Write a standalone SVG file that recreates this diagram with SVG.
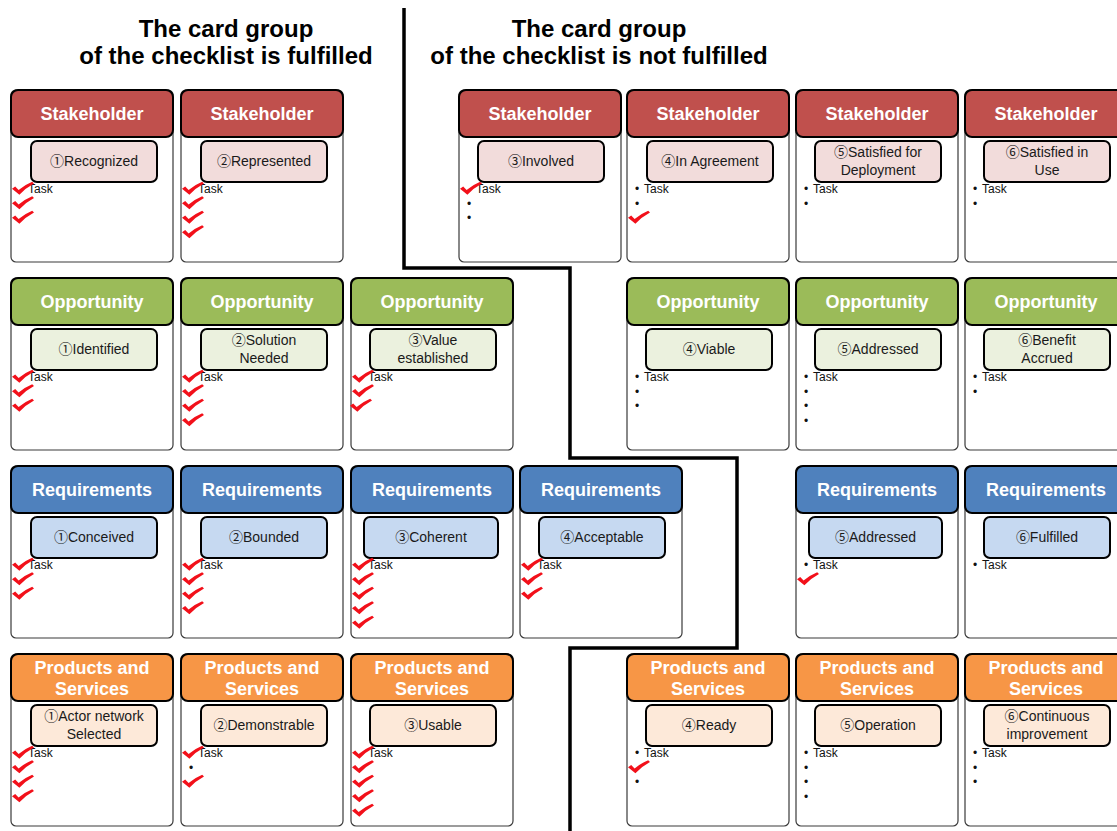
<svg xmlns="http://www.w3.org/2000/svg" xmlns:xlink="http://www.w3.org/1999/xlink" width="1117" height="831" viewBox="0 0 1117 831">
  <style>
    text { font-family: "Liberation Sans", "Noto Sans CJK JP", "DejaVu Sans", sans-serif; }
    .title { font-size: 24px; font-weight: bold; fill: #000; text-anchor: middle; }
    .body { fill: #fff; stroke: #3a3a3a; stroke-width: 1.2; }
    .hd { stroke: #000; stroke-width: 2; }
    .sb { stroke: #000; stroke-width: 2; }
    .hdt { font-size: 18px; font-weight: bold; fill: #fff; text-anchor: middle; }
    .sbt { font-size: 14px; fill: #1a1a1a; text-anchor: middle; }
    .tk { font-size: 12px; fill: #111; }
    .stk .hd { fill: #C0504D; } .stk .sb { fill: #F2DCDB; }
    .opp .hd { fill: #9BBB59; } .opp .sb { fill: #EBF1DE; }
    .req .hd { fill: #4F81BD; } .req .sb { fill: #C6D9F1; }
    .prd .hd { fill: #F79646; } .prd .sb { fill: #FDE9D9; }
    .div { fill: none; stroke: #000; stroke-width: 3.5; stroke-linejoin: miter; }
  </style>
  <defs>
    <!-- brush-style red check mark, about 22x13 -->
    <path id="chk" fill="#F2101A" d="M0,6.8 L3.2,4.4 L6.6,8 Q13,2.6 20.2,-0.3 L22,1.6 Q13.8,6 7.4,12.8 Z"/>
  </defs>

  <rect width="1117" height="831" fill="#fff"/>

  <!-- column titles -->
  <g id="titles">
    <text class="title" x="226" y="37">The card group</text>
    <text class="title" x="226" y="64">of the checklist is fulfilled</text>
    <text class="title" x="599" y="37">The card group</text>
    <text class="title" x="599" y="64">of the checklist is not fulfilled</text>
  </g>

  <!-- stepped boundary between fulfilled and unfulfilled cards -->
  <g id="divider">
    <path class="div" d="M404,8 V268 H570 V458 H737 V648 H570 V831"/>
  </g>

  <!-- ===== Row 1 : Stakeholder (top 90) ===== -->
  <g id="stakeholder-1" class="stk">
    <rect class="body" x="11" y="90" width="162" height="172" rx="5"/>
    <rect class="hd" x="11" y="90" width="162" height="47" rx="7"/>
    <text class="hdt" x="92" y="120">Stakeholder</text>
    <rect class="sb" x="31" y="141" width="126" height="41" rx="6"/>
    <text class="sbt" x="94" y="166">①Recognized</text>
    <text class="tk" x="28" y="193">Task</text>
    <use href="#chk" x="12" y="182"/><use href="#chk" x="12" y="196.5"/><use href="#chk" x="12" y="211"/>
  </g>
  <g id="stakeholder-2" class="stk">
    <rect class="body" x="181" y="90" width="162" height="172" rx="5"/>
    <rect class="hd" x="181" y="90" width="162" height="47" rx="7"/>
    <text class="hdt" x="262" y="120">Stakeholder</text>
    <rect class="sb" x="201" y="141" width="126" height="41" rx="6"/>
    <text class="sbt" x="264" y="166">②Represented</text>
    <text class="tk" x="198" y="193">Task</text>
    <use href="#chk" x="182" y="182"/><use href="#chk" x="182" y="196.5"/><use href="#chk" x="182" y="211"/><use href="#chk" x="182" y="225.5"/>
  </g>
  <g id="stakeholder-3" class="stk">
    <rect class="body" x="459" y="90" width="162" height="172" rx="5"/>
    <rect class="hd" x="459" y="90" width="162" height="47" rx="7"/>
    <text class="hdt" x="540" y="120">Stakeholder</text>
    <rect class="sb" x="478" y="141" width="126" height="41" rx="6"/>
    <text class="sbt" x="541" y="166">③Involved</text>
    <text class="tk" x="476" y="193">Task</text>
    <text class="tk" x="467" y="207.5">•</text>
    <text class="tk" x="467" y="222">•</text>
    <use href="#chk" x="460" y="182"/>
  </g>
  <g id="stakeholder-4" class="stk">
    <rect class="body" x="627" y="90" width="162" height="172" rx="5"/>
    <rect class="hd" x="627" y="90" width="162" height="47" rx="7"/>
    <text class="hdt" x="708" y="120">Stakeholder</text>
    <rect class="sb" x="647" y="141" width="126" height="41" rx="6"/>
    <text class="sbt" x="710" y="166">④In Agreement</text>
    <text class="tk" x="635" y="193">•</text><text class="tk" x="644" y="193">Task</text>
    <text class="tk" x="635" y="207.5">•</text>
    <use href="#chk" x="628" y="211"/>
  </g>
  <g id="stakeholder-5" class="stk">
    <rect class="body" x="796" y="90" width="162" height="172" rx="5"/>
    <rect class="hd" x="796" y="90" width="162" height="47" rx="7"/>
    <text class="hdt" x="877" y="120">Stakeholder</text>
    <rect class="sb" x="815" y="141" width="126" height="41" rx="6"/>
    <text class="sbt" x="878" y="157"><tspan x="878">⑤Satisfied for</tspan><tspan x="878" y="175">Deployment</tspan></text>
    <text class="tk" x="804" y="193">•</text><text class="tk" x="813" y="193">Task</text>
    <text class="tk" x="804" y="207.5">•</text>
  </g>
  <g id="stakeholder-6" class="stk">
    <rect class="body" x="965" y="90" width="162" height="172" rx="5"/>
    <rect class="hd" x="965" y="90" width="162" height="47" rx="7"/>
    <text class="hdt" x="1046" y="120">Stakeholder</text>
    <rect class="sb" x="984" y="141" width="126" height="41" rx="6"/>
    <text class="sbt" x="1047" y="157"><tspan x="1047">⑥Satisfied in</tspan><tspan x="1047" y="175">Use</tspan></text>
    <text class="tk" x="973" y="193">•</text><text class="tk" x="982" y="193">Task</text>
    <text class="tk" x="973" y="207.5">•</text>
  </g>

  <!-- ===== Row 2 : Opportunity (top 278) ===== -->
  <g id="opportunity-1" class="opp">
    <rect class="body" x="11" y="278" width="162" height="172" rx="5"/>
    <rect class="hd" x="11" y="278" width="162" height="47" rx="7"/>
    <text class="hdt" x="92" y="308">Opportunity</text>
    <rect class="sb" x="31" y="329" width="126" height="41" rx="6"/>
    <text class="sbt" x="94" y="354">①Identified</text>
    <text class="tk" x="28" y="381">Task</text>
    <use href="#chk" x="12" y="370"/><use href="#chk" x="12" y="384.5"/><use href="#chk" x="12" y="399"/>
  </g>
  <g id="opportunity-2" class="opp">
    <rect class="body" x="181" y="278" width="162" height="172" rx="5"/>
    <rect class="hd" x="181" y="278" width="162" height="47" rx="7"/>
    <text class="hdt" x="262" y="308">Opportunity</text>
    <rect class="sb" x="201" y="329" width="126" height="41" rx="6"/>
    <text class="sbt" x="264" y="345"><tspan x="264">②Solution</tspan><tspan x="264" y="363">Needed</tspan></text>
    <text class="tk" x="198" y="381">Task</text>
    <use href="#chk" x="182" y="370"/><use href="#chk" x="182" y="384.5"/><use href="#chk" x="182" y="399"/><use href="#chk" x="182" y="413.5"/>
  </g>
  <g id="opportunity-3" class="opp">
    <rect class="body" x="351" y="278" width="162" height="172" rx="5"/>
    <rect class="hd" x="351" y="278" width="162" height="47" rx="7"/>
    <text class="hdt" x="432" y="308">Opportunity</text>
    <rect class="sb" x="370" y="329" width="126" height="41" rx="6"/>
    <text class="sbt" x="433" y="345"><tspan x="433">③Value</tspan><tspan x="433" y="363">established</tspan></text>
    <text class="tk" x="368" y="381">Task</text>
    <use href="#chk" x="352" y="370"/><use href="#chk" x="352" y="384.5"/><use href="#chk" x="350" y="399"/>
  </g>
  <g id="opportunity-4" class="opp">
    <rect class="body" x="627" y="278" width="162" height="172" rx="5"/>
    <rect class="hd" x="627" y="278" width="162" height="47" rx="7"/>
    <text class="hdt" x="708" y="308">Opportunity</text>
    <rect class="sb" x="646" y="329" width="126" height="41" rx="6"/>
    <text class="sbt" x="709" y="354">④Viable</text>
    <text class="tk" x="635" y="381">•</text><text class="tk" x="644" y="381">Task</text>
    <text class="tk" x="635" y="395.5">•</text>
    <text class="tk" x="635" y="410">•</text>
  </g>
  <g id="opportunity-5" class="opp">
    <rect class="body" x="796" y="278" width="162" height="172" rx="5"/>
    <rect class="hd" x="796" y="278" width="162" height="47" rx="7"/>
    <text class="hdt" x="877" y="308">Opportunity</text>
    <rect class="sb" x="815" y="329" width="126" height="41" rx="6"/>
    <text class="sbt" x="878" y="354">⑤Addressed</text>
    <text class="tk" x="804" y="381">•</text><text class="tk" x="813" y="381">Task</text>
    <text class="tk" x="804" y="395.5">•</text>
    <text class="tk" x="804" y="410">•</text>
    <text class="tk" x="804" y="424.5">•</text>
  </g>
  <g id="opportunity-6" class="opp">
    <rect class="body" x="965" y="278" width="162" height="172" rx="5"/>
    <rect class="hd" x="965" y="278" width="162" height="47" rx="7"/>
    <text class="hdt" x="1046" y="308">Opportunity</text>
    <rect class="sb" x="984" y="329" width="126" height="41" rx="6"/>
    <text class="sbt" x="1047" y="345"><tspan x="1047">⑥Benefit</tspan><tspan x="1047" y="363">Accrued</tspan></text>
    <text class="tk" x="973" y="381">•</text><text class="tk" x="982" y="381">Task</text>
    <text class="tk" x="973" y="395.5">•</text>
  </g>

  <!-- ===== Row 3 : Requirements (top 466) ===== -->
  <g id="requirements-1" class="req">
    <rect class="body" x="11" y="466" width="162" height="172" rx="5"/>
    <rect class="hd" x="11" y="466" width="162" height="47" rx="7"/>
    <text class="hdt" x="92" y="496">Requirements</text>
    <rect class="sb" x="31" y="517" width="126" height="41" rx="6"/>
    <text class="sbt" x="94" y="542">①Conceived</text>
    <text class="tk" x="28" y="569">Task</text>
    <use href="#chk" x="12" y="558"/><use href="#chk" x="12" y="572.5"/><use href="#chk" x="12" y="587"/>
  </g>
  <g id="requirements-2" class="req">
    <rect class="body" x="181" y="466" width="162" height="172" rx="5"/>
    <rect class="hd" x="181" y="466" width="162" height="47" rx="7"/>
    <text class="hdt" x="262" y="496">Requirements</text>
    <rect class="sb" x="201" y="517" width="126" height="41" rx="6"/>
    <text class="sbt" x="264" y="542">②Bounded</text>
    <text class="tk" x="198" y="569">Task</text>
    <use href="#chk" x="182" y="558"/><use href="#chk" x="182" y="572.5"/><use href="#chk" x="182" y="587"/><use href="#chk" x="182" y="601.5"/>
  </g>
  <g id="requirements-3" class="req">
    <rect class="body" x="351" y="466" width="162" height="172" rx="5"/>
    <rect class="hd" x="351" y="466" width="162" height="47" rx="7"/>
    <text class="hdt" x="432" y="496">Requirements</text>
    <rect class="sb" x="364" y="517" width="134" height="41" rx="6"/>
    <text class="sbt" x="431" y="542">③Coherent</text>
    <text class="tk" x="368" y="569">Task</text>
    <use href="#chk" x="352" y="558"/><use href="#chk" x="352" y="572.5"/><use href="#chk" x="352" y="587"/><use href="#chk" x="352" y="601.5"/><use href="#chk" x="352" y="616"/>
  </g>
  <g id="requirements-4" class="req">
    <rect class="body" x="520" y="466" width="162" height="172" rx="5"/>
    <rect class="hd" x="520" y="466" width="162" height="47" rx="7"/>
    <text class="hdt" x="601" y="496">Requirements</text>
    <rect class="sb" x="539" y="517" width="126" height="41" rx="6"/>
    <text class="sbt" x="602" y="542">④Acceptable</text>
    <text class="tk" x="537" y="569">Task</text>
    <use href="#chk" x="521" y="558"/><use href="#chk" x="521" y="572.5"/><use href="#chk" x="521" y="587"/>
  </g>
  <g id="requirements-5" class="req">
    <rect class="body" x="796" y="466" width="162" height="172" rx="5"/>
    <rect class="hd" x="796" y="466" width="162" height="47" rx="7"/>
    <text class="hdt" x="877" y="496">Requirements</text>
    <rect class="sb" x="809" y="517" width="133" height="41" rx="6"/>
    <text class="sbt" x="875.5" y="542">⑤Addressed</text>
    <text class="tk" x="804" y="569">•</text><text class="tk" x="813" y="569">Task</text>
    <use href="#chk" x="797" y="572.5"/>
  </g>
  <g id="requirements-6" class="req">
    <rect class="body" x="965" y="466" width="162" height="172" rx="5"/>
    <rect class="hd" x="965" y="466" width="162" height="47" rx="7"/>
    <text class="hdt" x="1046" y="496">Requirements</text>
    <rect class="sb" x="984" y="517" width="126" height="41" rx="6"/>
    <text class="sbt" x="1047" y="542">⑥Fulfilled</text>
    <text class="tk" x="973" y="569">•</text><text class="tk" x="982" y="569">Task</text>
  </g>

  <!-- ===== Row 4 : Products and Services (top 654) ===== -->
  <g id="products-1" class="prd">
    <rect class="body" x="11" y="654" width="162" height="172" rx="5"/>
    <rect class="hd" x="11" y="654" width="162" height="47" rx="7"/>
    <text class="hdt" x="92" y="673.5"><tspan x="92">Products and</tspan><tspan x="92" y="695">Services</tspan></text>
    <rect class="sb" x="31" y="705" width="126" height="41" rx="6"/>
    <text class="sbt" x="94" y="721"><tspan x="94">①Actor network</tspan><tspan x="94" y="739">Selected</tspan></text>
    <text class="tk" x="28" y="757">Task</text>
    <use href="#chk" x="12" y="746"/><use href="#chk" x="12" y="760.5"/><use href="#chk" x="12" y="775"/><use href="#chk" x="12" y="789.5"/>
  </g>
  <g id="products-2" class="prd">
    <rect class="body" x="181" y="654" width="162" height="172" rx="5"/>
    <rect class="hd" x="181" y="654" width="162" height="47" rx="7"/>
    <text class="hdt" x="262" y="673.5"><tspan x="262">Products and</tspan><tspan x="262" y="695">Services</tspan></text>
    <rect class="sb" x="201" y="705" width="126" height="41" rx="6"/>
    <text class="sbt" x="264" y="730">②Demonstrable</text>
    <text class="tk" x="198" y="757">Task</text>
    <text class="tk" x="189" y="771.5">•</text>
    <use href="#chk" x="182" y="746"/><use href="#chk" x="182" y="775"/>
  </g>
  <g id="products-3" class="prd">
    <rect class="body" x="351" y="654" width="162" height="172" rx="5"/>
    <rect class="hd" x="351" y="654" width="162" height="47" rx="7"/>
    <text class="hdt" x="432" y="673.5"><tspan x="432">Products and</tspan><tspan x="432" y="695">Services</tspan></text>
    <rect class="sb" x="370" y="705" width="126" height="41" rx="6"/>
    <text class="sbt" x="433" y="730">③Usable</text>
    <text class="tk" x="368" y="757">Task</text>
    <use href="#chk" x="352" y="746"/><use href="#chk" x="352" y="760.5"/><use href="#chk" x="352" y="775"/><use href="#chk" x="352" y="789.5"/><use href="#chk" x="352" y="804"/>
  </g>
  <g id="products-4" class="prd">
    <rect class="body" x="627" y="654" width="162" height="172" rx="5"/>
    <rect class="hd" x="627" y="654" width="162" height="47" rx="7"/>
    <text class="hdt" x="708" y="673.5"><tspan x="708">Products and</tspan><tspan x="708" y="695">Services</tspan></text>
    <rect class="sb" x="646" y="705" width="126" height="41" rx="6"/>
    <text class="sbt" x="709" y="730">④Ready</text>
    <text class="tk" x="635" y="757">•</text><text class="tk" x="644" y="757">Task</text>
    <text class="tk" x="635" y="786">•</text>
    <use href="#chk" x="628" y="760.5"/>
  </g>
  <g id="products-5" class="prd">
    <rect class="body" x="796" y="654" width="162" height="172" rx="5"/>
    <rect class="hd" x="796" y="654" width="162" height="47" rx="7"/>
    <text class="hdt" x="877" y="673.5"><tspan x="877">Products and</tspan><tspan x="877" y="695">Services</tspan></text>
    <rect class="sb" x="815" y="705" width="126" height="41" rx="6"/>
    <text class="sbt" x="878" y="730">⑤Operation</text>
    <text class="tk" x="804" y="757">•</text><text class="tk" x="813" y="757">Task</text>
    <text class="tk" x="804" y="771.5">•</text>
    <text class="tk" x="804" y="786">•</text>
    <text class="tk" x="804" y="800.5">•</text>
  </g>
  <g id="products-6" class="prd">
    <rect class="body" x="965" y="654" width="162" height="172" rx="5"/>
    <rect class="hd" x="965" y="654" width="162" height="47" rx="7"/>
    <text class="hdt" x="1046" y="673.5"><tspan x="1046">Products and</tspan><tspan x="1046" y="695">Services</tspan></text>
    <rect class="sb" x="984" y="705" width="126" height="41" rx="6"/>
    <text class="sbt" x="1047" y="721"><tspan x="1047">⑥Continuous</tspan><tspan x="1047" y="739">improvement</tspan></text>
    <text class="tk" x="973" y="757">•</text><text class="tk" x="982" y="757">Task</text>
    <text class="tk" x="973" y="771.5">•</text>
    <text class="tk" x="973" y="786">•</text>
  </g>

  <!-- no arrows between cards -->
  <g id="connectors"/>
</svg>
